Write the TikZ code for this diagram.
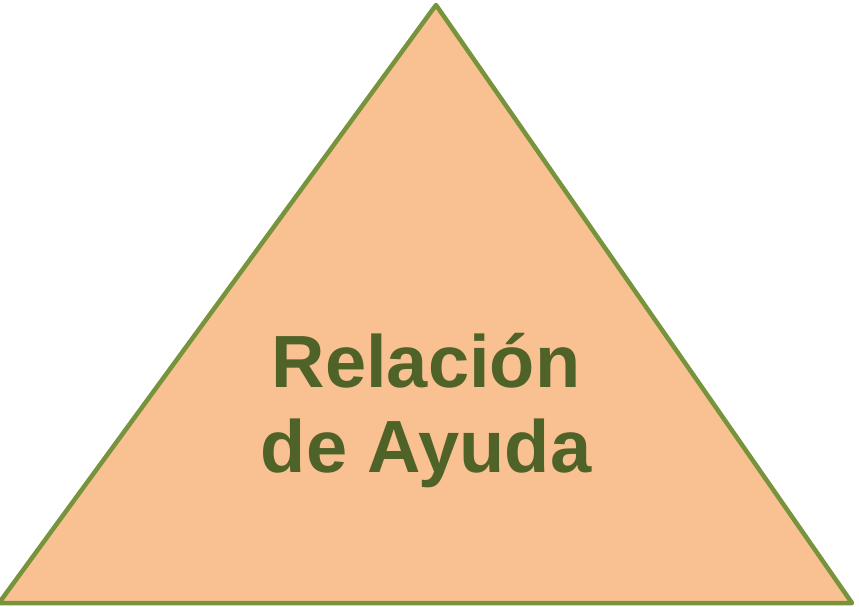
\documentclass[tikz,border=0pt]{standalone}
\usepackage{fontspec}
\setmainfont{Liberation Sans}
\usepackage{tikz}
\usetikzlibrary{positioning}
\definecolor{peach}{HTML}{F9C192}
\definecolor{olive}{HTML}{77933C}
\definecolor{darkolive}{HTML}{4F6228}
\tikzset{
    pyramid/.style={
           draw=olive,
           fill=peach,
           line width=4.5pt,
           line join=round,
           },
    label/.style={
           text=darkolive,
           align=center,
           inner sep=0pt,
           font=\fontsize{74}{85}\selectfont\bfseries,
           },
}

\begin{document}
\begin{tikzpicture}[x=1pt,y=1pt]
 \useasboundingbox (0,0) rectangle (859,606);

 \coordinate (TOP) at (436,601);
 \coordinate (LEFT) at (-1,3);
 \coordinate (RIGHT) at (852,3);

 \draw[pyramid] (TOP) -- (RIGHT) -- (LEFT) -- cycle;

 \node[label] (TEXT) at (426,195)
 {Relación\\de Ayuda};
\end{tikzpicture}
\end{document}
